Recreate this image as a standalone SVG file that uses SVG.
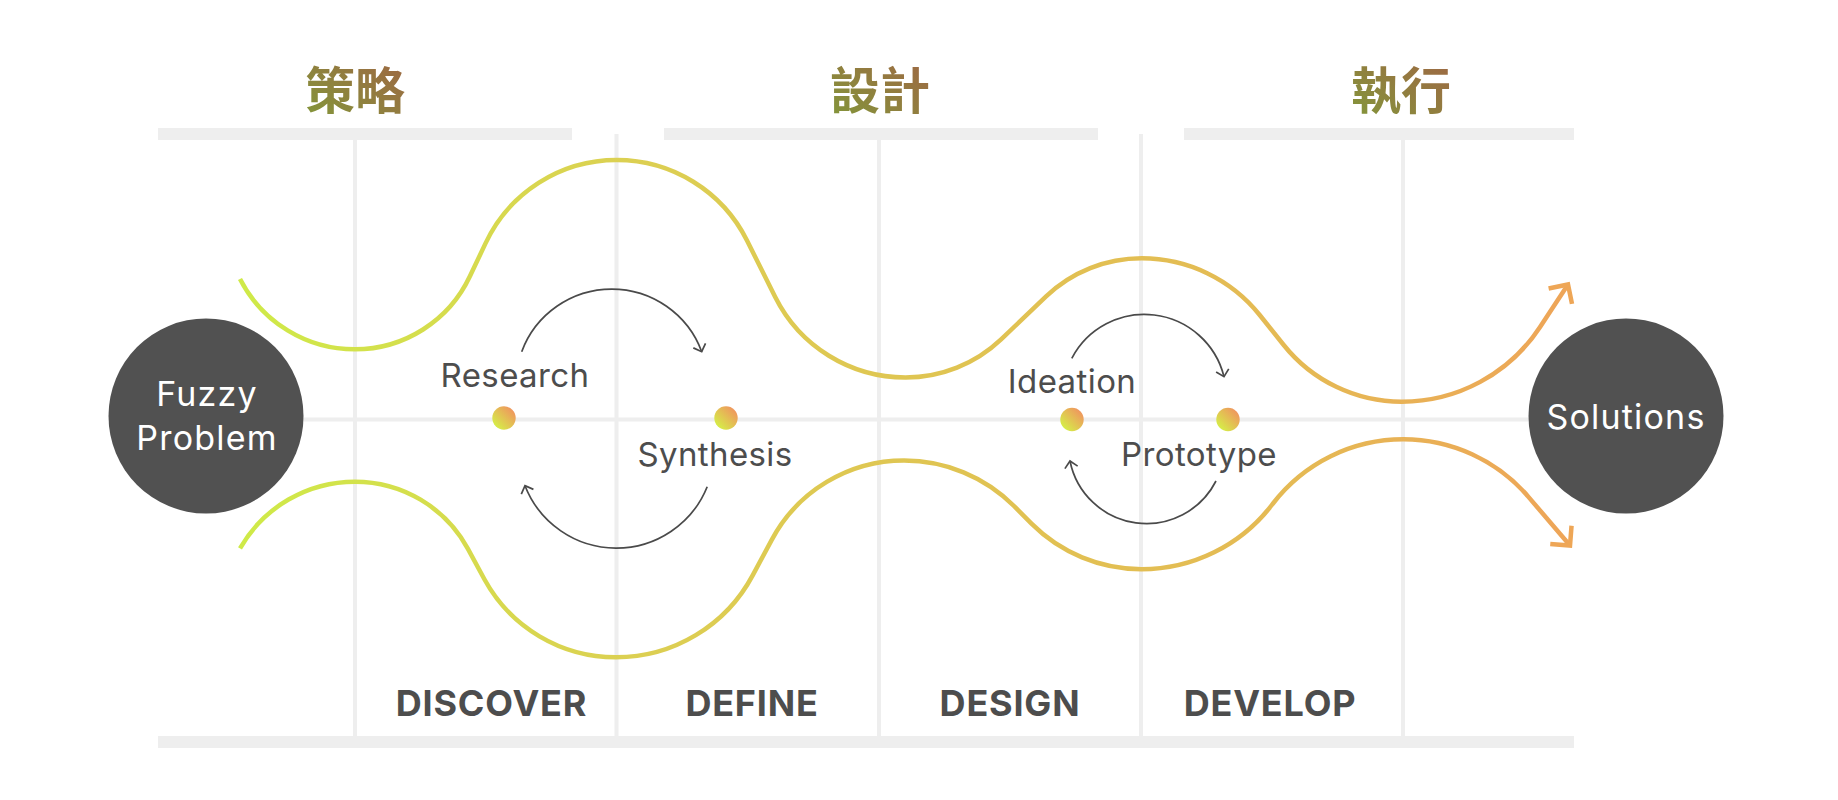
<svg xmlns="http://www.w3.org/2000/svg" width="1838" height="800" viewBox="0 0 1838 800">
<style>
.bar{fill:#eeeeee}
.grid{stroke:#eeeeee;stroke-width:4;fill:none}
.wave{fill:none;stroke:url(#waveGrad);stroke-width:4.5;stroke-linecap:butt}
.loop{fill:none;stroke:#4a4a4a;stroke-width:1.7}
.hdr{font-family:"Noto Sans CJK TC","Noto Sans CJK SC",sans-serif;font-weight:700;font-size:50px;fill:url(#hdrGrad);text-anchor:middle}
.lbl{font-family:Inter,"Liberation Sans",sans-serif;font-size:33px;letter-spacing:0.4px;fill:#4d4d4d;text-anchor:middle}
.phase{font-family:Inter,"Liberation Sans",sans-serif;font-size:36px;letter-spacing:0.8px;font-weight:700;fill:#4d4d4d;text-anchor:middle}
.ctext{font-family:Inter,"Liberation Sans",sans-serif;font-size:34px;letter-spacing:1.2px;fill:#ffffff;text-anchor:middle}
.node{fill:#515151}
.dot{fill:url(#dotGrad)}
</style>
<defs>
<linearGradient id="waveGrad" gradientUnits="userSpaceOnUse" x1="240" y1="0" x2="1575" y2="0">
<stop offset="0" stop-color="#cfea48"/>
<stop offset="0.3" stop-color="#dccf52"/>
<stop offset="0.55" stop-color="#e0c352"/>
<stop offset="0.8" stop-color="#e5b954"/>
<stop offset="1" stop-color="#eea458"/>
</linearGradient>
<linearGradient id="dotGrad" x1="0" y1="1" x2="1" y2="0">
<stop offset="0.15" stop-color="#d6ec48"/>
<stop offset="0.85" stop-color="#ef985e"/>
</linearGradient>
<linearGradient id="hdrGrad" x1="0" y1="1" x2="1" y2="0">
<stop offset="0" stop-color="#82983a"/>
<stop offset="1" stop-color="#a06444"/>
</linearGradient>
<marker id="bigHead" markerUnits="userSpaceOnUse" viewBox="-20 -20 40 40" markerWidth="40" markerHeight="40" refX="0" refY="0" orient="auto" overflow="visible">
<path d="M-14,-14 L0,0 L-14,14" fill="none" stroke="#eea656" stroke-width="4.5" stroke-linejoin="miter"/>
</marker>
<marker id="smallHead" markerUnits="userSpaceOnUse" viewBox="-10 -10 20 20" markerWidth="20" markerHeight="20" refX="0" refY="0" orient="auto" overflow="visible">
<path d="M-6.5,-6.5 L0,0 L-6.5,6.5" fill="none" stroke="#4a4a4a" stroke-width="1.7"/>
</marker>
</defs>
<rect width="1838" height="800" fill="#ffffff"/>

<g id="grid">
<rect class="bar" x="158" y="128" width="414" height="12"/>
<rect class="bar" x="664" y="128" width="434" height="12"/>
<rect class="bar" x="1184" y="128" width="390" height="12"/>
<rect class="bar" x="158" y="736" width="1416" height="12"/>
<line class="grid" x1="355" y1="140" x2="355" y2="736"/>
<line class="grid" x1="616.5" y1="134" x2="616.5" y2="736"/>
<line class="grid" x1="879" y1="140" x2="879" y2="736"/>
<line class="grid" x1="1141" y1="134" x2="1141" y2="736"/>
<line class="grid" x1="1403" y1="140" x2="1403" y2="736"/>
<line class="grid" x1="206" y1="419.5" x2="1626" y2="419.5"/>
</g>

<g id="headers">
<text class="hdr" x="355" y="109">策略</text>
<text class="hdr" x="880" y="109">設計</text>
<text class="hdr" x="1401" y="109">執行</text>
</g>

<g id="connectors">
<path class="wave" marker-end="url(#bigHead)" d="M240,279 A129.2,129.2 0 0 0 355,349.3 A127,127 0 0 0 469.9,276.3 L485.5,243.4 A145,145 0 0 1 616.7,160 A145.7,145.7 0 0 1 747,240.5 L775.2,297 A145.7,145.7 0 0 0 905.5,377.5 A138.8,138.8 0 0 0 1001.1,339.4 L1046.1,296.4 A138.8,138.8 0 0 1 1141.7,258.3 A151.1,151.1 0 0 1 1259.7,315 L1283.7,345 A151.1,151.1 0 0 0 1401.7,401.7 A165.4,165.4 0 0 0 1539.9,327.2 L1568,284.5"/>
<path class="wave" marker-end="url(#bigHead)" d="M240,548.3 A132.6,132.6 0 0 1 355,481.7 A128.5,128.5 0 0 1 467.8,548.6 L484.4,579.3 A149.9,149.9 0 0 0 616,657.3 A154.9,154.9 0 0 0 752.8,575.1 L771.6,540.1 A150,150 0 0 1 904,460.5 A155.5,155.5 0 0 1 1014,506 L1031.5,523.7 A155.5,155.5 0 0 0 1141.5,569.2 A164.4,164.4 0 0 0 1271.8,505 L1273,503.5 A164.4,164.4 0 0 1 1403.3,439.3 A165,165 0 0 1 1528.2,496.6 L1570,545.5"/>
<path class="loop" marker-end="url(#smallHead)" d="M521.7,351.7 A96,96 0 0 1 701.7,351.7"/>
<path class="loop" marker-end="url(#smallHead)" d="M707.2,486.7 A98,98 0 0 1 525,485.7"/>
<path class="loop" marker-end="url(#smallHead)" d="M1071.8,358.3 A82,82 0 0 1 1224,376.7"/>
<path class="loop" marker-end="url(#smallHead)" d="M1216,481 A78,78 0 0 1 1070,461"/>
</g>

<g id="fuzzy">
<circle class="node" cx="206" cy="416" r="97.5"/>
<text class="ctext" x="207" y="406">Fuzzy</text>
<text class="ctext" x="207" y="450">Problem</text>
</g>
<g id="solutions">
<circle class="node" cx="1626" cy="416" r="97.5"/>
<text class="ctext" x="1626" y="429">Solutions</text>
</g>

<g id="research">
<circle class="dot" cx="504" cy="418" r="11.7"/>
<text class="lbl" x="515" y="386.7">Research</text>
</g>
<g id="synthesis">
<circle class="dot" cx="726" cy="418" r="11.7"/>
<text class="lbl" x="715" y="465.5">Synthesis</text>
</g>
<g id="ideation">
<circle class="dot" cx="1072" cy="419.5" r="11.7"/>
<text class="lbl" x="1072" y="393.3">Ideation</text>
</g>
<g id="prototype">
<circle class="dot" cx="1228" cy="419.5" r="11.7"/>
<text class="lbl" x="1199" y="466">Prototype</text>
</g>

<g id="phases">
<text class="phase" x="491.5" y="716">DISCOVER</text>
<text class="phase" x="752" y="716">DEFINE</text>
<text class="phase" x="1010" y="716">DESIGN</text>
<text class="phase" x="1270" y="716">DEVELOP</text>
</g>
</svg>
